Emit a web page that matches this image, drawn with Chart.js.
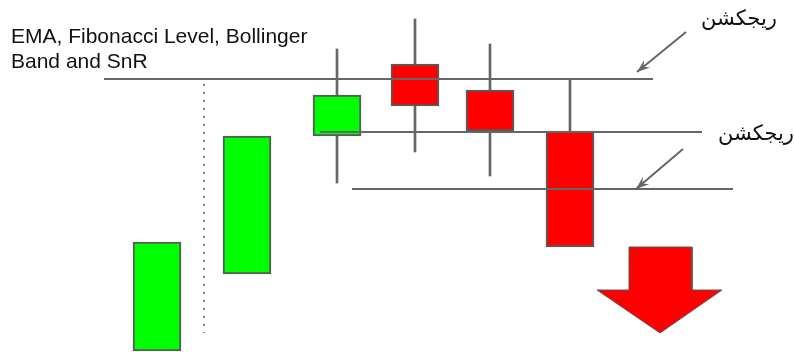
<!DOCTYPE html>
<html>
<head>
<meta charset="utf-8">
<script src="https://cdn.jsdelivr.net/npm/chart.js@4.4.1/dist/chart.umd.min.js"></script>
<style>
  html, body { margin: 0; padding: 0; background: #fff; }
  #wrap { width: 794px; height: 352px; }
</style>
</head>
<body>
<div id="wrap"><canvas id="c" width="794" height="352"></canvas></div>
<script>
// candle data (x = candle centre, prices)
const candleX = [157, 247, 337, 415, 490, 570];
const candleOpen = [1, 78, 216, 288, 262, 221];
const candleClose = [110, 216, 257, 246, 221, 105];
const candleHigh = [110, 216, 303, 333, 308, 272];
const candleLow = [1, 78, 169, 200, 176, 105];

// resistance levels: [price, xStart, xEnd]
const levelPrice = [273, 220, 163];
const levelStart = [104, 320, 352];
const levelEnd = [653, 702, 733];

// dotted divider
const dividerX = 204;
const dividerRange = [19, 268];

// pointer arrows (from -> to)
const arrowFrom = [[686, 320], [683, 203]];
const arrowTo = [[637, 280], [636, 163]];

// big down arrow outline
const downArrowX = [629, 692, 692, 722, 660, 597, 629, 629];
const downArrowY = [105, 105, 62, 62, 19, 62, 62, 105];

// text labels
const titleLines = ['EMA, Fibonacci Level, Bollinger', 'Band and SnR'];
const rejectLabel = 'ريجكشن';
const rejectPos = [[739, 333], [756, 218]];

const GREY = '#666666';
const EDGE = '#595959';

var datasets = [];

// wicks (upper and lower part, skipped when there is none)
var wickData = [];
candleX.forEach(function(x, i) {
    var top = Math.max(candleOpen[i], candleClose[i]);
    var bot = Math.min(candleOpen[i], candleClose[i]);
    if (candleHigh[i] > top) wickData.push({ x: x, y: [top, candleHigh[i]] });
    if (candleLow[i] < bot) wickData.push({ x: x, y: [candleLow[i], bot] });
});
datasets.push({
    type: 'bar',
    data: wickData,
    backgroundColor: GREY,
    borderWidth: 0,
    barThickness: 2,
    grouped: false,
    order: 3
});

// bodies
datasets.push({
    type: 'bar',
    data: candleX.map(function(x, i) { return { x: x, y: [candleOpen[i], candleClose[i]] }; }),
    backgroundColor: candleX.map(function(x, i) { return candleClose[i] >= candleOpen[i] ? '#00ff00' : '#ff0000'; }),
    borderColor: EDGE,
    borderWidth: 2,
    borderSkipped: false,
    barThickness: 48,
    grouped: false,
    order: 2
});

// horizontal levels
levelPrice.forEach(function(p, i) {
    datasets.push({
        type: 'line',
        data: [{ x: levelStart[i], y: p }, { x: levelEnd[i], y: p }],
        borderColor: GREY,
        borderWidth: 2,
        pointRadius: 0,
        order: 1
    });
});

// dotted divider
datasets.push({
    type: 'line',
    data: [{ x: dividerX, y: dividerRange[1] }, { x: dividerX, y: dividerRange[0] }],
    borderColor: '#888888',
    borderWidth: 2,
    borderDash: [2, 6],
    pointRadius: 0,
    order: 1
});

// pointer arrows
arrowFrom.forEach(function(f, i) {
    datasets.push({
        type: 'line',
        data: [{ x: f[0], y: f[1] }, { x: arrowTo[i][0], y: arrowTo[i][1] }],
        borderColor: GREY,
        borderWidth: 2,
        pointRadius: 0,
        isArrow: true,
        order: 1
    });
});

// big red down arrow
datasets.push({
    type: 'line',
    data: downArrowX.map(function(x, i) { return { x: x, y: downArrowY[i] }; }),
    borderColor: EDGE,
    borderWidth: 1,
    backgroundColor: '#ff0000',
    fill: 'shape',
    tension: 0,
    pointRadius: 0,
    order: 1
});

// arrowheads for pointer arrows
const arrowHeads = {
    id: 'arrowHeads',
    afterDatasetsDraw: function(chart) {
        var ctx = chart.ctx;
        chart.data.datasets.forEach(function(ds, i) {
            if (!ds.isArrow) return;
            var pts = chart.getDatasetMeta(i).data;
            var a = pts[0], b = pts[1];
            var ang = Math.atan2(b.y - a.y, b.x - a.x);
            var len = 14;
            ctx.save();
            ctx.fillStyle = GREY;
            ctx.strokeStyle = GREY;
            ctx.lineWidth = 1.5;
            ctx.beginPath();
            ctx.moveTo(b.x - len * Math.cos(ang - 0.35), b.y - len * Math.sin(ang - 0.35));
            ctx.lineTo(b.x, b.y);
            ctx.lineTo(b.x - len * Math.cos(ang + 0.35), b.y - len * Math.sin(ang + 0.35));
            ctx.lineTo(b.x - 0.6 * len * Math.cos(ang), b.y - 0.6 * len * Math.sin(ang));
            ctx.closePath();
            ctx.fill();
            ctx.restore();
        });
    }
};

// text labels
const labels = {
    id: 'labels',
    afterDraw: function(chart) {
        var ctx = chart.ctx;
        var xs = chart.scales.x, ys = chart.scales.y;
        ctx.save();
        ctx.fillStyle = '#111111';
        ctx.textBaseline = 'alphabetic';
        ctx.textAlign = 'left';
        ctx.font = '21px "Liberation Sans", Arial, sans-serif';
        titleLines.forEach(function(t, i) {
            ctx.fillText(t, xs.getPixelForValue(11), ys.getPixelForValue(309 - i * 25));
        });
        ctx.textAlign = 'center';
        ctx.textBaseline = 'middle';
        ctx.font = '21px "Liberation Sans", Arial, "DejaVu Sans", sans-serif';
        rejectPos.forEach(function(p) {
            ctx.fillText(rejectLabel, xs.getPixelForValue(p[0]), ys.getPixelForValue(p[1]));
        });
        ctx.restore();
    }
};

var ctx = document.getElementById('c').getContext('2d');
var chart = new Chart(ctx, {
    type: 'bar',
    data: { datasets: datasets },
    options: {
        responsive: false,
        animation: false,
        layout: { padding: 0 },
        plugins: {
            legend: { display: false },
            tooltip: { enabled: false }
        },
        scales: {
            x: { type: 'linear', min: 0, max: 794, offset: false, display: false },
            y: { type: 'linear', min: 0, max: 352, display: false }
        }
    },
    plugins: [arrowHeads, labels]
});
</script>
</body>
</html>
